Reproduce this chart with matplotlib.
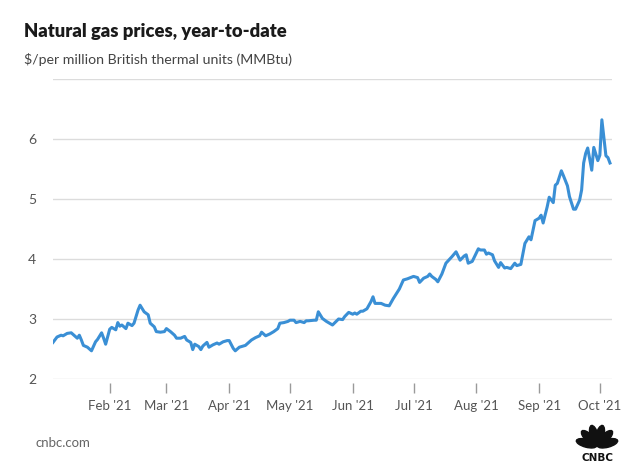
import math
import matplotlib.pyplot as plt
import matplotlib.dates as mdates
from matplotlib.patches import Ellipse
import pandas as pd

# Henry Hub natural gas, $/MMBtu
dates = ['2021-01-04', '2021-01-06', '2021-01-08', '2021-01-09', '2021-01-11', '2021-01-13',
         '2021-01-14', '2021-01-16', '2021-01-17', '2021-01-18', '2021-01-19', '2021-01-21',
         '2021-01-23', '2021-01-25', '2021-01-26', '2021-01-28', '2021-01-29', '2021-01-30',
         '2021-02-01', '2021-02-02', '2021-02-04', '2021-02-05', '2021-02-06', '2021-02-07',
         '2021-02-09', '2021-02-10', '2021-02-12', '2021-02-13', '2021-02-15', '2021-02-16',
         '2021-02-18', '2021-02-20', '2021-02-21', '2021-02-23', '2021-02-24', '2021-02-26',
         '2021-02-28', '2021-03-01', '2021-03-03', '2021-03-05', '2021-03-06', '2021-03-08',
         '2021-03-10', '2021-03-11', '2021-03-13', '2021-03-14', '2021-03-15', '2021-03-17',
         '2021-03-18', '2021-03-19', '2021-03-21', '2021-03-22', '2021-03-24', '2021-03-26',
         '2021-03-27', '2021-03-29', '2021-03-31', '2021-04-01', '2021-04-03', '2021-04-04',
         '2021-04-06', '2021-04-07', '2021-04-09', '2021-04-11', '2021-04-12', '2021-04-14',
         '2021-04-16', '2021-04-17', '2021-04-19', '2021-04-21', '2021-04-23', '2021-04-25',
         '2021-04-26', '2021-04-28', '2021-04-30', '2021-05-01', '2021-05-03', '2021-05-04',
         '2021-05-06', '2021-05-08', '2021-05-09', '2021-05-10', '2021-05-13', '2021-05-14',
         '2021-05-15', '2021-05-17', '2021-05-19', '2021-05-21', '2021-05-22', '2021-05-25',
         '2021-05-27', '2021-05-28', '2021-05-30', '2021-06-01', '2021-06-02', '2021-06-03',
         '2021-06-05', '2021-06-06', '2021-06-08', '2021-06-10', '2021-06-11', '2021-06-12',
         '2021-06-15', '2021-06-17', '2021-06-19', '2021-06-21', '2021-06-24', '2021-06-26',
         '2021-06-28', '2021-07-01', '2021-07-03', '2021-07-04', '2021-07-06', '2021-07-08',
         '2021-07-09', '2021-07-10', '2021-07-12', '2021-07-13', '2021-07-15', '2021-07-17',
         '2021-07-20', '2021-07-22', '2021-07-24', '2021-07-26', '2021-07-27', '2021-07-28',
         '2021-07-30', '2021-07-31', '2021-08-02', '2021-08-03', '2021-08-05', '2021-08-06',
         '2021-08-07', '2021-08-09', '2021-08-10', '2021-08-12', '2021-08-13', '2021-08-15',
         '2021-08-16', '2021-08-18', '2021-08-20', '2021-08-21', '2021-08-23', '2021-08-25',
         '2021-08-27', '2021-08-28', '2021-08-30', '2021-09-01', '2021-09-02', '2021-09-03',
         '2021-09-05', '2021-09-06', '2021-09-08', '2021-09-09', '2021-09-10', '2021-09-12',
         '2021-09-13', '2021-09-15', '2021-09-16', '2021-09-18', '2021-09-19', '2021-09-21',
         '2021-09-22', '2021-09-23', '2021-09-24', '2021-09-25', '2021-09-27', '2021-09-28',
         '2021-09-30', '2021-10-01', '2021-10-02', '2021-10-04', '2021-10-05', '2021-10-06']

prices = [2.61, 2.70, 2.73, 2.72, 2.76, 2.77,
          2.74, 2.68, 2.73, 2.65, 2.56, 2.53,
          2.47, 2.62, 2.66, 2.77, 2.68, 2.58,
          2.83, 2.86, 2.82, 2.94, 2.88, 2.90,
          2.84, 2.93, 2.89, 2.93, 3.15, 3.23,
          3.12, 3.07, 2.93, 2.87, 2.79, 2.78,
          2.79, 2.84, 2.79, 2.73, 2.68, 2.68,
          2.71, 2.65, 2.61, 2.49, 2.58, 2.54,
          2.49, 2.55, 2.61, 2.53, 2.57, 2.60,
          2.58, 2.62, 2.64, 2.64, 2.51, 2.47,
          2.53, 2.54, 2.56, 2.62, 2.65, 2.69,
          2.72, 2.78, 2.72, 2.75, 2.79, 2.84,
          2.93, 2.94, 2.96, 2.98, 2.98, 2.94,
          2.96, 2.94, 2.97, 2.97, 2.98, 2.98,
          3.12, 3.01, 2.96, 2.92, 2.90, 3.00,
          2.99, 3.04, 3.11, 3.08, 3.10, 3.08,
          3.13, 3.13, 3.17, 3.29, 3.37, 3.26,
          3.26, 3.23, 3.22, 3.34, 3.50, 3.65,
          3.67, 3.71, 3.69, 3.61, 3.68, 3.71,
          3.75, 3.71, 3.66, 3.62, 3.75, 3.93,
          4.04, 4.12, 3.98, 4.05, 4.07, 3.93,
          3.96, 4.03, 4.17, 4.15, 4.15, 4.08,
          4.10, 4.07, 3.97, 3.86, 3.94, 3.85,
          3.86, 3.84, 3.93, 3.89, 3.91, 4.26,
          4.37, 4.32, 4.64, 4.68, 4.73, 4.60,
          4.87, 5.03, 4.94, 5.23, 5.26, 5.47,
          5.39, 5.22, 5.04, 4.83, 4.83, 4.98,
          5.15, 5.60, 5.76, 5.85, 5.48, 5.86,
          5.64, 5.73, 6.32, 5.72, 5.69, 5.60]

yticks = [2, 3, 4, 5, 6, 7]
ytick_labels = ['2', '3', '4', '5', '6', '']

plt.rcParams['font.family'] = ['Lato', 'DejaVu Sans']

fig = plt.figure(figsize=(6.3, 4.67), dpi=100)
ax = fig.add_axes([53 / 630, 1 - 379 / 467, 559 / 630, 300 / 467])

x = pd.to_datetime(dates)
ax.plot(x, prices, color='#3a8fd5', lw=2.2, solid_joinstyle='round', zorder=3)

ax.set_ylim(2, 7)
ax.set_xlim(pd.Timestamp('2021-01-04'), pd.Timestamp('2021-10-07'))
ax.set_yticks(yticks)
ax.set_yticklabels(ytick_labels)
ax.yaxis.grid(True, color='#dcdcdc', lw=1)
ax.set_axisbelow(True)

ax.xaxis.set_major_locator(mdates.MonthLocator(bymonth=range(2, 11)))
ax.xaxis.set_major_formatter(mdates.DateFormatter("%b '%y"))

for s in ax.spines.values():
    s.set_visible(False)
ax.spines['bottom'].set_position(('outward', 3))

ax.tick_params(axis='x', length=7, width=1, color='#9a9a9a', pad=5,
               labelsize=9.5, labelcolor='#555555')
ax.tick_params(axis='y', length=0, pad=12, labelsize=10, labelcolor='#555555')

fig.text(24 / 630, 1 - 32 / 467, 'Natural gas prices, year-to-date', fontsize=13.2,
         fontweight='heavy', color='#1a1a1a', va='center')
fig.text(24 / 630, 1 - 60 / 467, r'\$/per million British thermal units (MMBtu)',
         fontsize=10.2, color='#444444', va='center')
fig.text(35 / 630, 1 - 443 / 467, 'cnbc.com', fontsize=9.5, color='#666666', va='center')

# CNBC peacock logo
lax = fig.add_axes([574 / 630, 1 - 466 / 467, 46 / 630, 44 / 467])
lax.set_xlim(-1.1, 1.1)
lax.set_ylim(-0.95, 1.15)
lax.set_aspect('equal')
lax.axis('off')
for ang in [15, 45, 75, 105, 135, 165]:
    a = math.radians(ang)
    cx, cy = 0.52 * math.cos(a), 0.52 * math.sin(a)
    lax.add_patch(Ellipse((cx, cy), 1.0, 0.38, angle=ang, color='#111111'))
lax.text(0, -0.55, 'CNBC', ha='center', va='center', fontsize=7.5,
         fontweight='heavy', color='#111111', family='DejaVu Sans')

fig.savefig('out.png', dpi=100, facecolor='white')
